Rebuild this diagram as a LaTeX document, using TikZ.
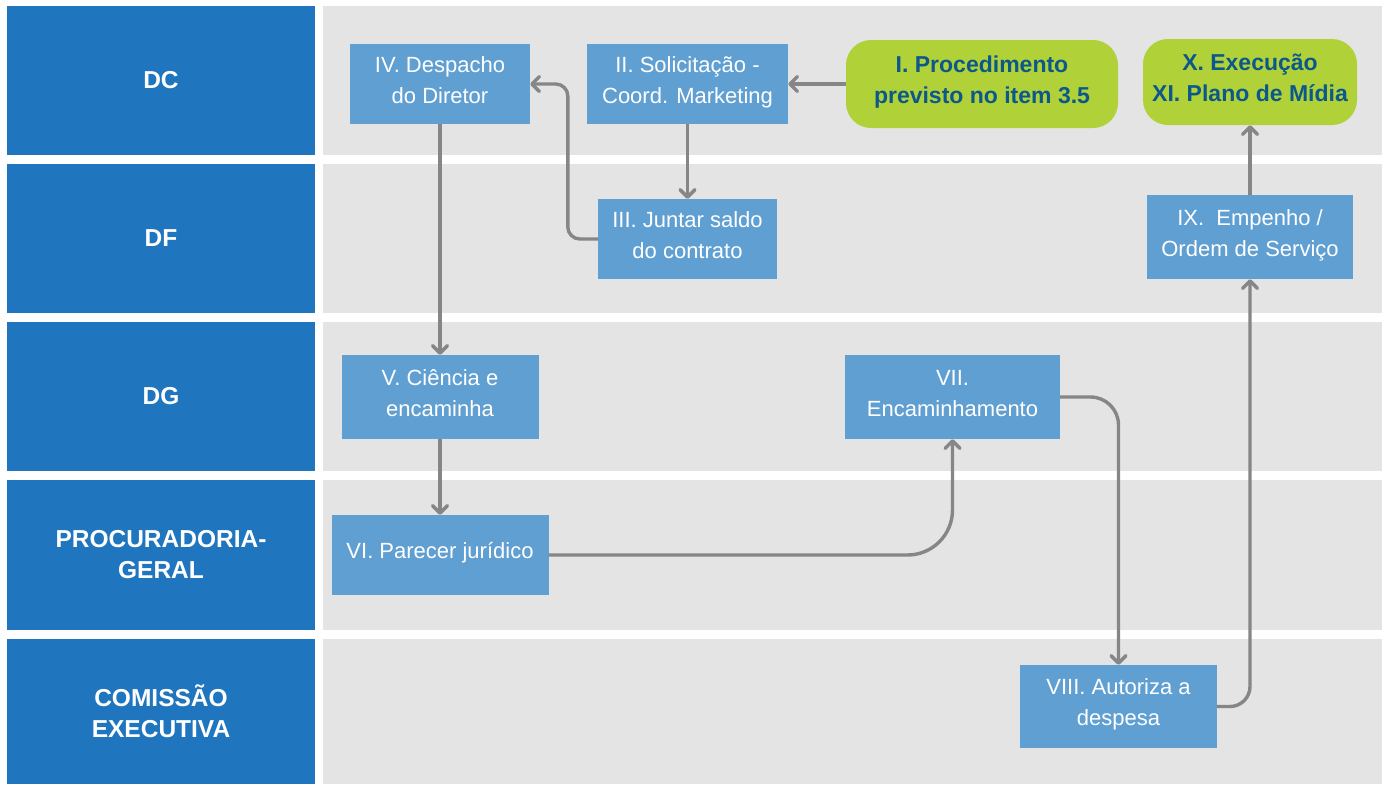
\documentclass[tikz,border=0pt]{standalone}
\usepackage{fontspec}
\setmainfont{Liberation Sans}
\usetikzlibrary{arrows.meta}
\definecolor{hdrblue}{RGB}{31,117,190}
\definecolor{boxblue}{RGB}{96,159,210}
\definecolor{lanegray}{RGB}{228,228,228}
\definecolor{conngray}{RGB}{134,134,137}
\definecolor{greenfill}{RGB}{176,209,56}
\definecolor{greentext}{RGB}{12,88,138}
\newcommand\liftlines[2][2.5pt]{\raisebox{#1}[\height][\depth]{\begin{tabular}{@{}c@{}}#2\end{tabular}}}
\tikzset{
  lanehdr/.style={fill=hdrblue, text=white, font=\bfseries\fontsize{24.5}{31}\selectfont, align=center, inner sep=0pt},
  stepbox/.style={fill=boxblue, text=white, font=\fontsize{22}{31}\selectfont, inner sep=0pt},
  greenbox/.style={fill=greenfill, text=greentext, font=\bfseries\fontsize{23}{31}\selectfont, inner sep=0pt, rounded corners=25pt},
  conn/.style={draw=conngray, line width=3.4pt, -{Straight Barb[length=7.5pt,width=15pt,round]}},
}
\begin{document}
\begin{tikzpicture}[x=1pt,y=-1pt]
\useasboundingbox[fill=white] (0,0) rectangle (1387,785);
% lane bands
\foreach \ya/\yb in {6/155,164/313,322/471,480/630,639/784}{
  \fill[lanegray] (323,\ya) rectangle (1382,\yb);
}
% lane headers
\node[lanehdr, minimum width=308pt, minimum height=149pt] (hDC) at (161,80.5) {DC};
\node[lanehdr, minimum width=308pt, minimum height=149pt] (hDF) at (161,238.5) {DF};
\node[lanehdr, minimum width=308pt, minimum height=149pt] (hDG) at (161,396.5) {DG};
\node[lanehdr, minimum width=308pt, minimum height=150pt] (hPG) at (161,555) {PROCURADORIA-\\GERAL};
\node[lanehdr, minimum width=308pt, minimum height=145pt] (hCE) at (161,711.5) {COMISSÃO\\EXECUTIVA};
% steps
\node[greenbox, minimum width=272pt, minimum height=88pt] (I) at (982,84) {\liftlines{I. Procedimento\\previsto no item 3.5}};
\node[stepbox, minimum width=201pt, minimum height=80pt] (II) at (687.5,84) {\liftlines{II. Solicitação -\\Coord. Marketing}};
\node[stepbox, minimum width=179pt, minimum height=80pt] (III) at (687.5,239) {\liftlines{III. Juntar saldo\\do contrato}};
\node[stepbox, minimum width=180pt, minimum height=80pt] (IV) at (440,84) {\liftlines{IV. Despacho\\do Diretor}};
\node[stepbox, minimum width=197pt, minimum height=84pt] (V) at (440,397) {\liftlines{V. Ciência e\\encaminha}};
\node[stepbox, minimum width=217pt, minimum height=80pt] (VI) at (440,555) {\liftlines[3pt]{VI. Parecer jurídico}};
\node[stepbox, minimum width=215pt, minimum height=84pt] (VII) at (952.5,397) {\liftlines{VII.\\Encaminhamento}};
\node[stepbox, minimum width=197pt, minimum height=83pt] (VIII) at (1118.5,706.5) {\liftlines{VIII. Autoriza a\\despesa}};
\node[stepbox, minimum width=206pt, minimum height=84pt] (IX) at (1250,237) {\liftlines{IX.\ \ Empenho /\\Ordem de Serviço}};
\node[greenbox, minimum width=214pt, minimum height=86pt] (X) at (1250,82) {\liftlines{X. Execução\\XI. Plano de Mídia}};
% connectors
\draw[conn] (I.west) -- (II.east);
\draw[conn] (II.south) -- (III.north);
\draw[conn, rounded corners=12pt] (III.west) -- ++(-30,0) |- (IV.east);
\draw[conn] (IV.south) -- (V.north);
\draw[conn] (V.south) -- (VI.north);
\draw[conn, rounded corners=45pt] (VI.east) -| (VII.south);
\draw[conn, rounded corners=28pt] (VII.east) -| (VIII.north);
\draw[conn, rounded corners=20pt] (VIII.east) -| (IX.south);
\draw[conn] (IX.north) -- (X.south);
\end{tikzpicture}
\end{document}
